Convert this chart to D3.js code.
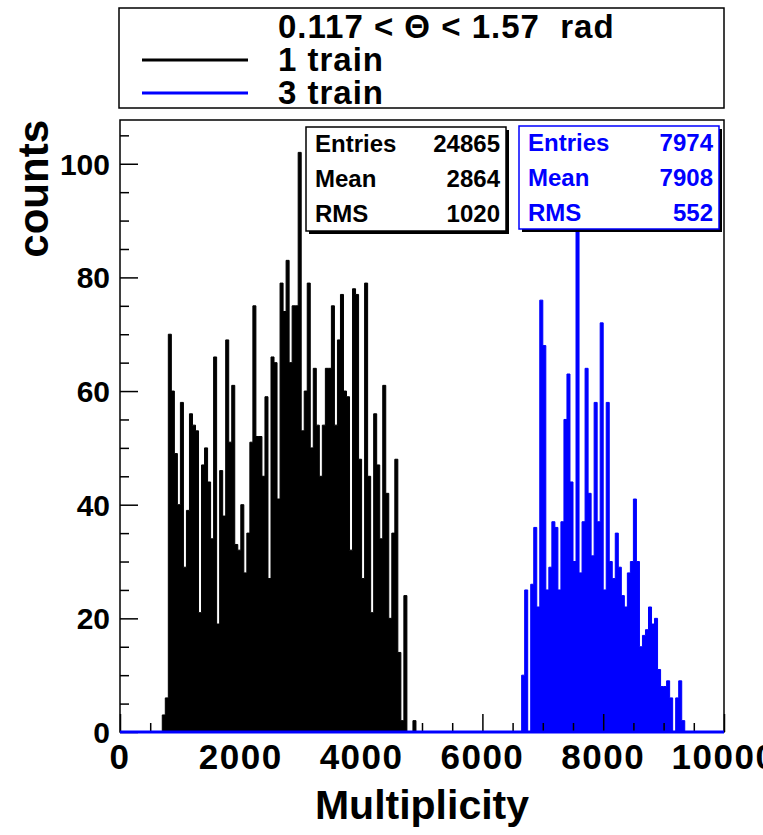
<!DOCTYPE html>
<html>
<head>
<meta charset="utf-8">
<script src="https://cdn.jsdelivr.net/npm/d3@7"></script>
<style>
	body { margin: 0; background: #fff; }
	svg { display: block; font-family: "Liberation Sans", Arial, sans-serif; font-weight: bold; }
</style>
</head>
<body>
<svg></svg>
<script>
var width = 763;
var height = 835;

// histogram bins, 50 units wide
var binWidth = 50;
var oneTrainStart = 650;
var oneTrainCounts = [
	0, 3, 6, 70, 60, 49, 40, 58, 29, 39,
	56, 54, 53, 21, 47, 50, 44, 34, 66, 19,
	46, 38, 69, 51, 61, 33, 32, 40, 28, 35,
	51, 75, 52, 52, 45, 59, 27, 66, 65, 41,
	79, 74, 83, 65, 75, 75, 102, 53, 60, 79,
	50, 64, 54, 45, 54, 64, 64, 75, 54, 69,
	77, 60, 59, 32, 78, 77, 48, 27, 79, 45,
	21, 56, 47, 34, 61, 42, 20, 35, 48, 14,
	2, 24, 0, 0, 2, 0
];
var threeTrainStart = 6600;
var threeTrainCounts = [
	0, 10, 25, 0, 26, 36, 22, 76, 68, 25,
	29, 37, 36, 25, 37, 55, 63, 44, 30, 88,
	28, 37, 64, 42, 31, 58, 37, 72, 25, 58,
	30, 27, 35, 29, 24, 22, 28, 30, 41, 30,
	15, 17, 18, 22, 19, 20, 11, 8, 8, 9,
	6, 0, 6, 9, 2, 0
];

var xTicks = [0, 2000, 4000, 6000, 8000, 10000];
var yTicks = [0, 20, 40, 60, 80, 100];

var legendTitle = "0.117 < \u0398 < 1.57  rad";
var seriesNames = ["1 train", "3 train"];
var seriesColors = ["#000000", "#0000ff"];

var statLabels = ["Entries", "Mean", "RMS"];
var oneTrainStats = [24865, 2864, 1020];
var threeTrainStats = [7974, 7908, 552];

var frame = {left: 120, right: 724, top: 120, bottom: 732};

var xScale = d3.scaleLinear()
	.domain([0, 10000])
	.range([frame.left, frame.right]);

var yScale = d3.scaleLinear()
	.domain([0, 107.7])
	.range([frame.bottom, frame.top]);

var svg = d3.select('svg')
	.attr('width', width)
	.attr('height', height);

function toSteps(start, counts){
	var pts = counts.map((c, i) => ({x: start + i*binWidth, y: c}));
	pts.push({x: start + counts.length*binWidth, y: counts[counts.length-1]});
	return pts;
}

var area = d3.area()
	.x(d => xScale(d.x))
	.y0(yScale(0))
	.y1(d => yScale(d.y))
	.curve(d3.curveStepAfter);

var line = d3.line()
	.x(d => xScale(d.x))
	.y(d => yScale(d.y))
	.curve(d3.curveStepAfter);

[[oneTrainStart, oneTrainCounts], [threeTrainStart, threeTrainCounts]].forEach(function(s, i){
	var pts = toSteps(s[0], s[1]);
	svg.append('path')
		.datum(pts)
		.attr('d', area)
		.attr('fill', seriesColors[i]);
	svg.append('path')
		.datum(pts)
		.attr('d', line)
		.attr('fill', 'none')
		.attr('stroke', seriesColors[i])
		.attr('stroke-width', 1);
});

// axes, ticks drawn inward like ROOT
var xAxis = d3.axisTop(xScale)
	.tickValues(d3.range(0, 10001, 500))
	.tickSize(0)
	.tickFormat('');
var gx = svg.append('g')
	.attr('transform', "translate(0," + frame.bottom + ")")
	.call(xAxis);
gx.select('.domain').remove();
gx.selectAll('.tick line')
	.attr('y2', d => d % 2000 === 0 ? -18 : -9)
	.attr('stroke', '#000')
	.attr('stroke-width', 1.5);

var yAxis = d3.axisRight(yScale)
	.tickValues(d3.range(0, 106, 5))
	.tickSize(0)
	.tickFormat('');
var gy = svg.append('g')
	.attr('transform', "translate(" + frame.left + ",0)")
	.call(yAxis);
gy.select('.domain').remove();
gy.selectAll('.tick line')
	.attr('x2', d => d % 20 === 0 ? 18 : 9)
	.attr('stroke', '#000')
	.attr('stroke-width', 1.5);

// frame
svg.append('rect')
	.attr('x', frame.left)
	.attr('y', frame.top)
	.attr('width', frame.right - frame.left)
	.attr('height', frame.bottom - frame.top)
	.attr('fill', 'none')
	.attr('stroke', '#000')
	.attr('stroke-width', 1.5);

// zero level of the 3 train histogram over the whole range
svg.append('line')
	.attr('x1', xScale(0))
	.attr('x2', xScale(10000))
	.attr('y1', yScale(0))
	.attr('y2', yScale(0))
	.attr('stroke', seriesColors[1])
	.attr('stroke-width', 3);

svg.selectAll('.xlab')
	.data(xTicks)
	.enter()
	.append('text')
		.attr('x', d => xScale(d))
		.attr('y', 769)
		.style('font-size', '35px')
		.style('letter-spacing', '1.5px')
		.style('text-anchor', 'middle')
		.text(d => d);

svg.selectAll('.ylab')
	.data(yTicks)
	.enter()
	.append('text')
		.attr('x', 110)
		.attr('y', d => yScale(d))
		.attr('dy', '0.36em')
		.style('font-size', '30px')
		.style('text-anchor', 'end')
		.text(d => d);

svg.append('text')
	.attr('x', (frame.left + frame.right)/2)
	.attr('y', 819)
	.style('font-size', '41px')
	.style('text-anchor', 'middle')
	.text('Multiplicity');

svg.append('text')
	.attr('transform', 'rotate(-90)')
	.attr('x', -frame.top)
	.attr('y', 48)
	.style('font-size', '42px')
	.style('text-anchor', 'end')
	.text('counts');

// legend
svg.append('rect')
	.attr('x', 119)
	.attr('y', 8)
	.attr('width', 605)
	.attr('height', 100)
	.attr('fill', '#fff')
	.attr('stroke', '#000')
	.attr('stroke-width', 1.5);

svg.append('text')
	.attr('x', 278)
	.attr('y', 38)
	.style('font-size', '33px')
	.style('letter-spacing', '1px')
	.style('white-space', 'pre')
	.text(legendTitle);

seriesNames.forEach(function(name, i){
	var yy = 60 + i*33;
	svg.append('line')
		.attr('x1', 142)
		.attr('x2', 248)
		.attr('y1', yy)
		.attr('y2', yy)
		.attr('stroke', seriesColors[i])
		.attr('stroke-width', 3);
	svg.append('text')
		.attr('x', 278)
		.attr('y', yy + 11)
		.style('font-size', '33px')
		.style('letter-spacing', '1px')
		.text(name);
});

// stats boxes
function statBox(x0, y0, w, h, values, color){
	svg.append('rect')
		.attr('x', x0 + 3)
		.attr('y', y0 + 3)
		.attr('width', w)
		.attr('height', h)
		.attr('fill', '#000');
	svg.append('rect')
		.attr('x', x0)
		.attr('y', y0)
		.attr('width', w)
		.attr('height', h)
		.attr('fill', '#fff')
		.attr('stroke', color)
		.attr('stroke-width', 1.5);
	statLabels.forEach(function(lab, i){
		svg.append('text')
			.attr('x', x0 + 9)
			.attr('y', y0 + 25 + i*35)
			.attr('fill', color)
			.style('font-size', '24px')
			.text(lab);
		svg.append('text')
			.attr('x', x0 + w - 6)
			.attr('y', y0 + 25 + i*35)
			.attr('fill', color)
			.style('font-size', '24px')
			.style('text-anchor', 'end')
			.text(values[i]);
	});
}

statBox(306, 127, 200, 104, oneTrainStats, seriesColors[0]);
statBox(519, 126, 200, 103, threeTrainStats, seriesColors[1]);
</script>
</body>
</html>
